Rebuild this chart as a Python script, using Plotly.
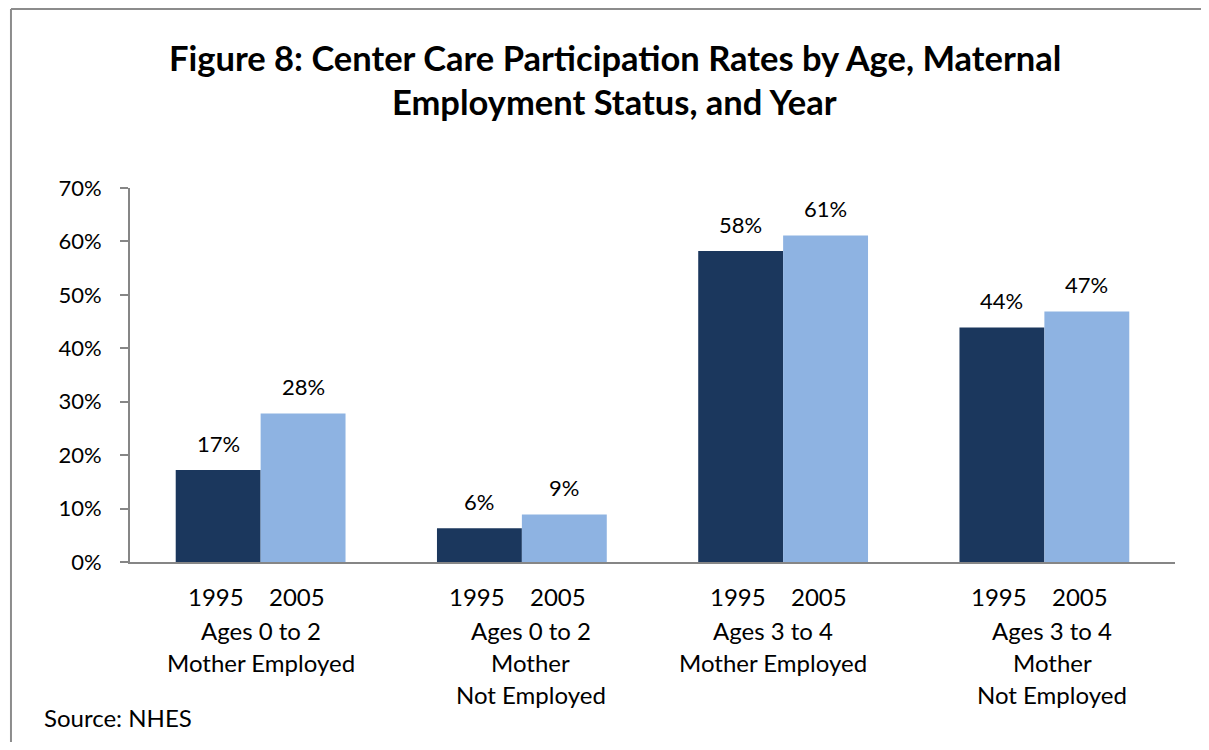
import plotly.graph_objects as go

# ---- data ----
group_lines = [
    ["Ages 0 to 2", "Mother Employed"],
    ["Ages 0 to 2", "Mother", "Not Employed"],
    ["Ages 3 to 4", "Mother Employed"],
    ["Ages 3 to 4", "Mother", "Not Employed"],
]
categories = [" ".join(g) for g in group_lines]
years = ["1995", "2005"]
rate_1995 = [0.172, 0.063, 0.582, 0.439]
rate_2005 = [0.278, 0.089, 0.611, 0.469]
y_ticks = [0, 0.1, 0.2, 0.3, 0.4, 0.5, 0.6, 0.7]
title_lines = ["Figure 8: Center Care Participation Rates by Age, Maternal",
               "Employment Status, and Year"]
source_text = "Source: NHES"

# ---- style ----
DARK = "#1B375D"
LIGHT = "#8EB3E2"
AXIS = "#868686"
FRAME = "#8c8c8c"
FONT = "Lato"
FS_TICK = 22
FS_LAB = 24
bar_shift = 42.5
year_shift = [-45, 36]
desc_shift = [0, 9, -10, 8]

fig = go.Figure()
for yr, vals, col in [(years[0], rate_1995, DARK), (years[1], rate_2005, LIGHT)]:
    fig.add_trace(go.Bar(x=categories, y=vals, name=yr, marker=dict(color=col, line=dict(width=0))))

ann = []
for i, cat in enumerate(categories):
    for j, vals in enumerate([rate_1995, rate_2005]):
        v = vals[i]
        ann.append(dict(x=cat, y=v, xref="x", yref="y", text=f"{v:.0%}", showarrow=False,
                        xshift=(-1 if j == 0 else 1) * bar_shift, yshift=27, yanchor="middle",
                        font=dict(family=FONT, size=FS_TICK, color="black")))
        ann.append(dict(x=cat, y=0, xref="x", yref="y", text=years[j], showarrow=False,
                        xshift=year_shift[j], yshift=-34, yanchor="middle",
                        font=dict(family=FONT, size=FS_LAB, color="black")))
    for k, line in enumerate(group_lines[i]):
        ann.append(dict(x=cat, y=0, xref="x", yref="y", text=line, showarrow=False,
                        xshift=desc_shift[i], yshift=-68 - 32 * k, yanchor="middle",
                        font=dict(family=FONT, size=FS_LAB, color="black")))

for k, line in enumerate(title_lines):
    ann.append(dict(x=0.4641, y=1.350 - 0.1176 * k, xref="paper", yref="paper", text=f"<b>{line}</b>",
                    showarrow=False, xanchor="center", yanchor="middle",
                    font=dict(family=FONT, size=34.5, color="black")))
ann.append(dict(x=-0.0842, y=-0.417, xref="paper", yref="paper", text=source_text, showarrow=False,
                xanchor="left", yanchor="middle", font=dict(family=FONT, size=FS_LAB, color="black")))

# page body adds an 8px margin, so the figure is sized to fit inside the window
fig.update_layout(
    width=1193, height=734,
    margin=dict(l=122, r=26, t=180, b=180),
    barmode="group", bargap=0.35, bargroupgap=0,
    showlegend=False,
    plot_bgcolor="white", paper_bgcolor="white",
    annotations=ann,
    shapes=[
        dict(type="line", xref="paper", yref="paper", x0=-0.1139, x1=1.2, y0=1.4786, y1=1.4786,
             line=dict(color=FRAME, width=2)),
        dict(type="line", xref="paper", yref="paper", x0=-0.1139, x1=-0.1139, y0=-0.7, y1=1.4786,
             line=dict(color=FRAME, width=2)),
    ],
)
fig.update_xaxes(showline=True, linecolor=AXIS, linewidth=2, showticklabels=False, ticks="",
                 showgrid=False, zeroline=False, range=[-0.5, 3.5])
fig.update_yaxes(range=[0, 0.7], tickvals=y_ticks, tickformat=".0%", showline=True, linecolor=AXIS,
                 linewidth=2, ticks="outside", ticklen=8, tickcolor=AXIS, tickwidth=2, showgrid=False,
                 zeroline=False, ticklabelstandoff=14,
                 tickfont=dict(family=FONT, size=FS_TICK, color="black"))

fig.write_html("out.html")
